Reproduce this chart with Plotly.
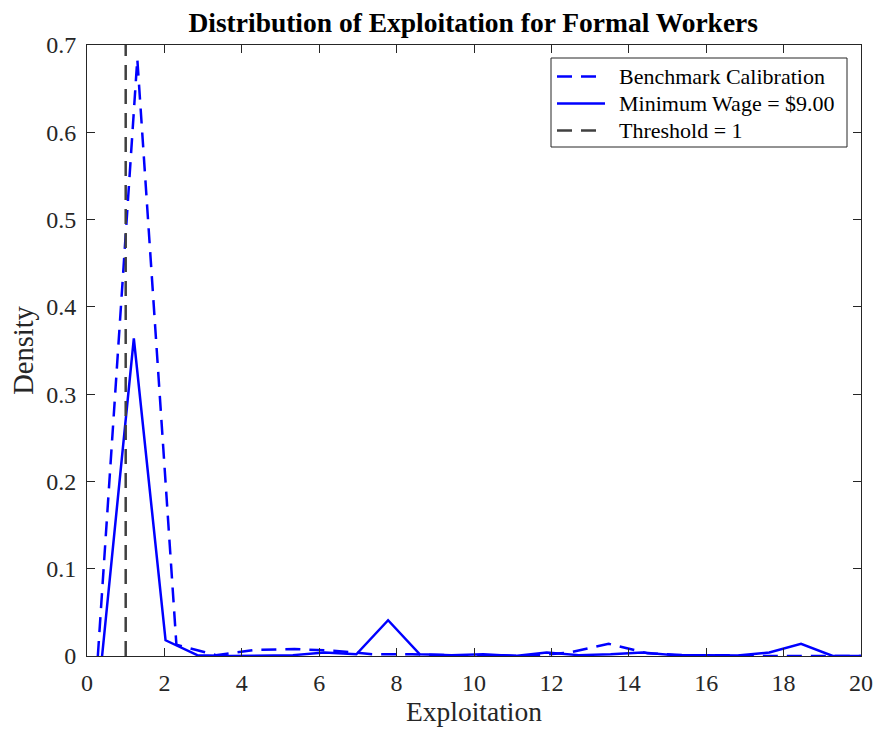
import plotly.graph_objects as go

# Density estimates of exploitation, formal workers
bench_x = [0.28, 1.30, 2.31, 3.33, 4.34, 5.36, 6.37, 7.39, 8.40, 9.42, 10.43,
           11.45, 12.46, 13.48, 14.49, 15.51, 16.52, 17.54, 18.55, 19.57, 20.58]
bench_y = [0.0, 0.684, 0.013, 0.001, 0.007, 0.008, 0.006, 0.002, 0.002, 0.001, 0.001,
           0.0, 0.004, 0.014, 0.003, 0.001, 0.001, 0.0, 0.0, 0.0, 0.0]

minwage_x = [0.39, 1.21, 2.03, 2.85, 3.67, 4.50, 5.32, 6.14, 6.96, 7.78, 8.60,
             9.42, 10.24, 11.06, 11.88, 12.71, 13.53, 14.35, 15.17, 15.99, 16.81,
             17.63, 18.45, 19.27, 20.09]
minwage_y = [0.0, 0.364, 0.018, 0.001, 0.0, 0.0005, 0.001, 0.004, 0.002, 0.041, 0.002,
             0.001, 0.002, 0.0, 0.004, 0.001, 0.002, 0.004, 0.001, 0.001, 0.0005,
             0.004, 0.014, 0.0, 0.0]

threshold = 1
series_names = ["Benchmark Calibration", "Minimum Wage = $9.00", "Threshold = 1"]
x_ticks = list(range(0, 21, 2))
y_ticks = [0, 0.1, 0.2, 0.3, 0.4, 0.5, 0.6, 0.7]

FONT = "Liberation Serif"
BLUE = "#0000FF"
GRAY = "#404040"
DASH = "15px,9px"

W, H = 878, 731
M = dict(l=87, r=17, t=45, b=75)
PW, PH = W - M["l"] - M["r"], H - M["t"] - M["b"]


def px_to_paper(px, py):
    """Pixel position in the page -> paper coordinates of the plot area."""
    return (px - M["l"]) / PW, (H - M["b"] - py) / PH


styles = [
    dict(color=BLUE, width=2.5, dash=DASH),
    dict(color=BLUE, width=2.5, dash="solid"),
    dict(color=GRAY, width=2.5, dash=DASH),
]

fig = go.Figure()
fig.add_trace(go.Scatter(x=bench_x, y=bench_y, mode="lines", name=series_names[0],
                         line=styles[0]))
fig.add_trace(go.Scatter(x=minwage_x, y=minwage_y, mode="lines", name=series_names[1],
                         line=styles[1]))
fig.add_trace(go.Scatter(x=[threshold, threshold], y=[0, 0.7], mode="lines", name=series_names[2],
                         line=styles[2]))

# Legend box drawn in the upper-right corner, MATLAB style
x0, y0 = px_to_paper(551, 58)
x1, y1 = px_to_paper(847, 147)
fig.add_shape(type="rect", xref="paper", yref="paper", x0=x0, y0=y1, x1=x1, y1=y0,
              line=dict(color="#262626", width=1), fillcolor="white", layer="above")
for i, (name, st) in enumerate(zip(series_names, styles)):
    row_y = 76.5 + 27 * i
    lx0, ly = px_to_paper(557, row_y)
    lx1, _ = px_to_paper(605, row_y)
    fig.add_shape(type="line", xref="paper", yref="paper", x0=lx0, y0=ly, x1=lx1, y1=ly,
                  line=st, layer="above")
    tx, _ = px_to_paper(617, row_y)
    fig.add_annotation(xref="paper", yref="paper", x=tx, y=ly, text=name, showarrow=False,
                       xanchor="left", yanchor="middle",
                       font=dict(family=FONT, size=22, color="black"))

axis_common = dict(
    showgrid=False, zeroline=False, showline=True, linecolor="#262626", linewidth=1,
    mirror="ticks", ticks="inside", ticklen=8, tickcolor="#262626", automargin=False,
    ticklabelstandoff=5,
    tickfont=dict(family=FONT, size=24, color="#262626"),
)

fig.update_layout(
    width=W, height=H,
    margin=M,
    paper_bgcolor="white", plot_bgcolor="white",
    font=dict(family=FONT, color="#262626"),
    showlegend=False,
    title=dict(text="<b>Distribution of Exploitation for Formal Workers</b>",
               x=0.539, xanchor="center", y=0.970, yanchor="middle",
               font=dict(family=FONT, size=27.5, color="black")),
    xaxis=dict(range=[0, 20], tickvals=x_ticks,
               title=dict(text="Exploitation", font=dict(family=FONT, size=27.5, color="#262626"),
                          standoff=3),
               **axis_common),
    yaxis=dict(range=[0, 0.7], tickvals=y_ticks, ticktext=[str(v) for v in y_ticks],
               title=dict(text="Density", font=dict(family=FONT, size=28.5, color="#262626"),
                          standoff=4),
               **axis_common),
)

fig.write_html("out.html")
